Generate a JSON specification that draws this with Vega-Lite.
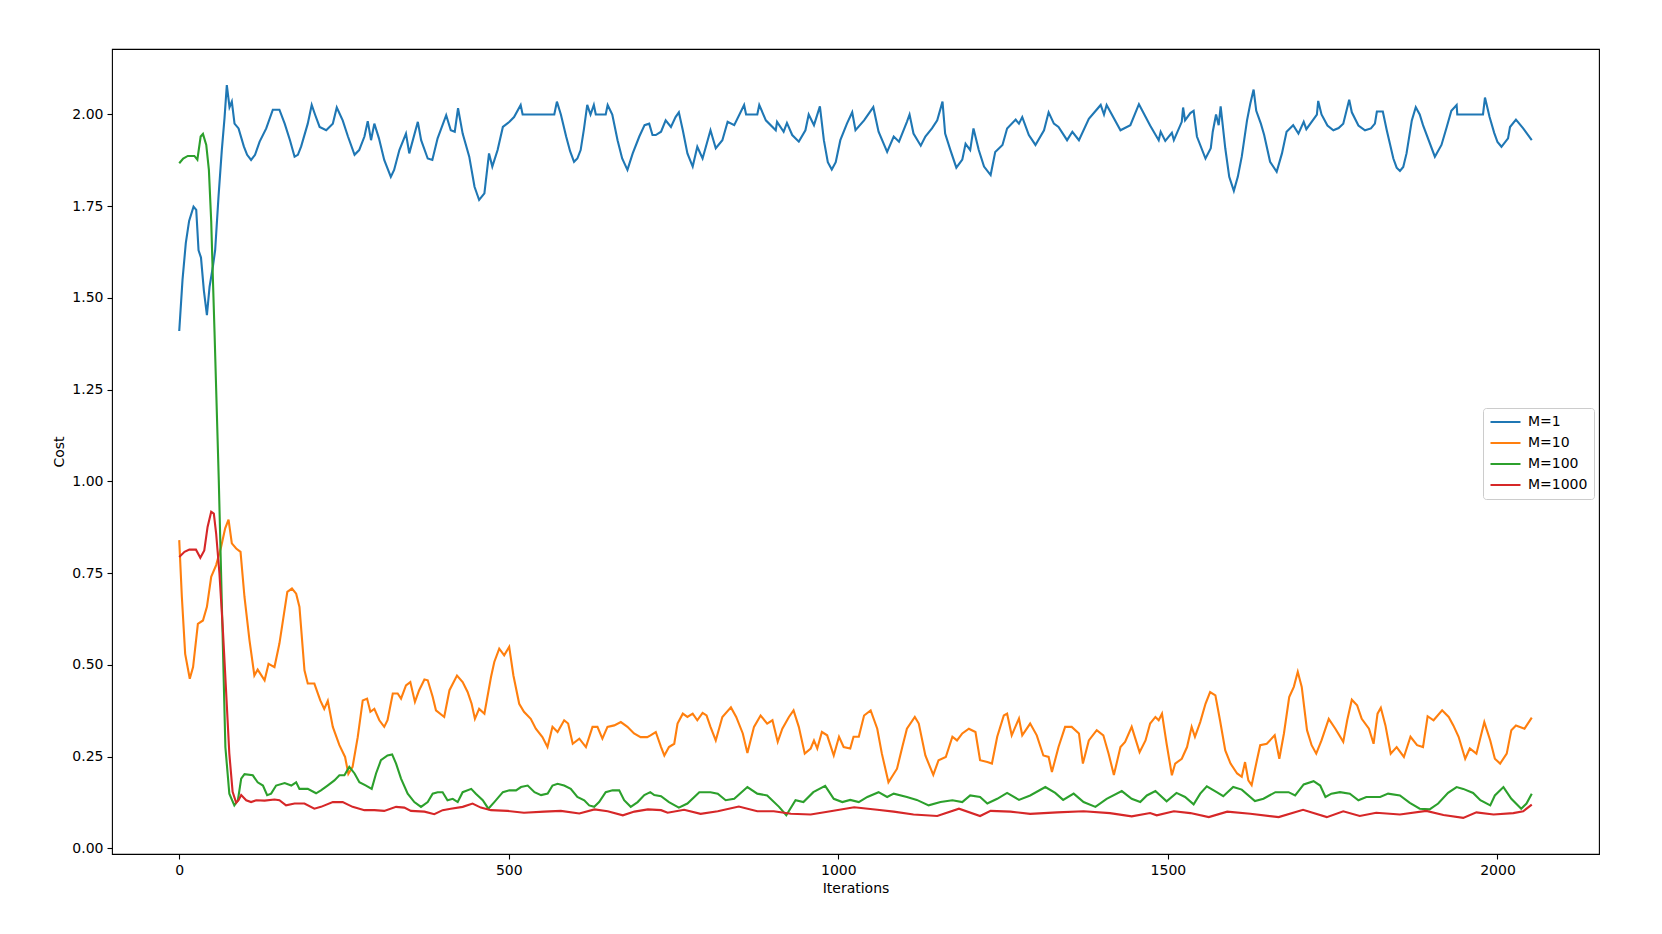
{
"$schema": "https://vega.github.io/schema/vega-lite/v6.json",
"width": 1487, "height": 805,
"autosize": {"type": "none"},
"padding": {"left": 112, "top": 49, "right": 63, "bottom": 80},
"background": "white",
"config": {
  "font": "DejaVu Sans",
  "view": {"stroke": "black", "strokeWidth": 1.1},
  "axis": {"grid": false, "domain": false, "tickColor": "black", "tickSize": 5, "tickWidth": 1.1, "labelPadding": 4, "labelFontSize": 14, "labelColor": "black", "labelFont": "DejaVu Sans", "titleFont": "DejaVu Sans", "titleFontSize": 14, "titleFontWeight": "normal", "titleColor": "black", "labelFlush": false}
},
"data": {"values": [
{"s":"M=1","x":0,"y":1.41},{"s":"M=1","x":5,"y":1.55},{"s":"M=1","x":10,"y":1.65},{"s":"M=1","x":15,"y":1.71},{"s":"M=1","x":21.7,"y":1.749},{"s":"M=1","x":25.8,"y":1.74},{"s":"M=1","x":29.3,"y":1.63},{"s":"M=1","x":33,"y":1.61},{"s":"M=1","x":37.4,"y":1.52},{"s":"M=1","x":42,"y":1.453},{"s":"M=1","x":46,"y":1.53},{"s":"M=1","x":51,"y":1.585},{"s":"M=1","x":54.5,"y":1.63},{"s":"M=1","x":59.6,"y":1.776},{"s":"M=1","x":64.6,"y":1.903},{"s":"M=1","x":68.7,"y":1.99},{"s":"M=1","x":72.2,"y":2.08},{"s":"M=1","x":76.3,"y":2.02},{"s":"M=1","x":79.8,"y":2.035},{"s":"M=1","x":83.9,"y":1.975},{"s":"M=1","x":90,"y":1.962},{"s":"M=1","x":98,"y":1.913},{"s":"M=1","x":103,"y":1.89},{"s":"M=1","x":109,"y":1.876},{"s":"M=1","x":115,"y":1.89},{"s":"M=1","x":122,"y":1.926},{"s":"M=1","x":132,"y":1.962},{"s":"M=1","x":142,"y":2.013},{"s":"M=1","x":152,"y":2.013},{"s":"M=1","x":160,"y":1.975},{"s":"M=1","x":168,"y":1.93},{"s":"M=1","x":175,"y":1.885},{"s":"M=1","x":180,"y":1.89},{"s":"M=1","x":185,"y":1.913},{"s":"M=1","x":195,"y":1.975},{"s":"M=1","x":201,"y":2.026},{"s":"M=1","x":206,"y":2.0},{"s":"M=1","x":213,"y":1.966},{"s":"M=1","x":223,"y":1.957},{"s":"M=1","x":233,"y":1.975},{"s":"M=1","x":239,"y":2.019},{"s":"M=1","x":248,"y":1.984},{"s":"M=1","x":256,"y":1.94},{"s":"M=1","x":266,"y":1.89},{"s":"M=1","x":273,"y":1.903},{"s":"M=1","x":281,"y":1.94},{"s":"M=1","x":286,"y":1.982},{"s":"M=1","x":291,"y":1.93},{"s":"M=1","x":296,"y":1.975},{"s":"M=1","x":303,"y":1.935},{"s":"M=1","x":311,"y":1.876},{"s":"M=1","x":321,"y":1.83},{"s":"M=1","x":326,"y":1.849},{"s":"M=1","x":334,"y":1.903},{"s":"M=1","x":344,"y":1.948},{"s":"M=1","x":349,"y":1.894},{"s":"M=1","x":362,"y":1.98},{"s":"M=1","x":367,"y":1.93},{"s":"M=1","x":377,"y":1.88},{"s":"M=1","x":384,"y":1.876},{"s":"M=1","x":392,"y":1.935},{"s":"M=1","x":405,"y":1.998},{"s":"M=1","x":412,"y":1.957},{"s":"M=1","x":418,"y":1.953},{"s":"M=1","x":423,"y":2.017},{"s":"M=1","x":430,"y":1.948},{"s":"M=1","x":440,"y":1.885},{"s":"M=1","x":448,"y":1.803},{"s":"M=1","x":455,"y":1.767},{"s":"M=1","x":463,"y":1.785},{"s":"M=1","x":470,"y":1.894},{"s":"M=1","x":475,"y":1.858},{"s":"M=1","x":483,"y":1.903},{"s":"M=1","x":491,"y":1.966},{"s":"M=1","x":501,"y":1.98},{"s":"M=1","x":508,"y":1.993},{"s":"M=1","x":518,"y":2.026},{"s":"M=1","x":521,"y":2.0},{"s":"M=1","x":569,"y":2.0},{"s":"M=1","x":573,"y":2.035},{"s":"M=1","x":579,"y":2.0},{"s":"M=1","x":587,"y":1.94},{"s":"M=1","x":593,"y":1.9},{"s":"M=1","x":599,"y":1.871},{"s":"M=1","x":604,"y":1.88},{"s":"M=1","x":609,"y":1.903},{"s":"M=1","x":614,"y":1.96},{"s":"M=1","x":619,"y":2.026},{"s":"M=1","x":624,"y":2.0},{"s":"M=1","x":629,"y":2.026},{"s":"M=1","x":632,"y":2.0},{"s":"M=1","x":647,"y":2.0},{"s":"M=1","x":650,"y":2.026},{"s":"M=1","x":657,"y":2.0},{"s":"M=1","x":665,"y":1.93},{"s":"M=1","x":672,"y":1.88},{"s":"M=1","x":680,"y":1.849},{"s":"M=1","x":688,"y":1.894},{"s":"M=1","x":698,"y":1.94},{"s":"M=1","x":706,"y":1.971},{"s":"M=1","x":713,"y":1.975},{"s":"M=1","x":718,"y":1.944},{"s":"M=1","x":723,"y":1.944},{"s":"M=1","x":731,"y":1.953},{"s":"M=1","x":738,"y":1.984},{"s":"M=1","x":746,"y":1.966},{"s":"M=1","x":753,"y":1.993},{"s":"M=1","x":758,"y":2.006},{"s":"M=1","x":764,"y":1.957},{"s":"M=1","x":771,"y":1.894},{"s":"M=1","x":779,"y":1.858},{"s":"M=1","x":786,"y":1.912},{"s":"M=1","x":794,"y":1.88},{"s":"M=1","x":806,"y":1.957},{"s":"M=1","x":814,"y":1.908},{"s":"M=1","x":824,"y":1.93},{"s":"M=1","x":832,"y":1.98},{"s":"M=1","x":842,"y":1.971},{"s":"M=1","x":857,"y":2.026},{"s":"M=1","x":860,"y":2.0},{"s":"M=1","x":877,"y":2.0},{"s":"M=1","x":880,"y":2.026},{"s":"M=1","x":890,"y":1.984},{"s":"M=1","x":905,"y":1.957},{"s":"M=1","x":907,"y":1.98},{"s":"M=1","x":917,"y":1.953},{"s":"M=1","x":922,"y":1.977},{"s":"M=1","x":930,"y":1.944},{"s":"M=1","x":940,"y":1.926},{"s":"M=1","x":950,"y":1.957},{"s":"M=1","x":955,"y":2.0},{"s":"M=1","x":963,"y":1.971},{"s":"M=1","x":972,"y":2.022},{"s":"M=1","x":978,"y":1.93},{"s":"M=1","x":984,"y":1.87},{"s":"M=1","x":990,"y":1.85},{"s":"M=1","x":996,"y":1.87},{"s":"M=1","x":1003,"y":1.93},{"s":"M=1","x":1013,"y":1.975},{"s":"M=1","x":1021,"y":2.006},{"s":"M=1","x":1026,"y":1.957},{"s":"M=1","x":1039,"y":1.984},{"s":"M=1","x":1053,"y":2.02},{"s":"M=1","x":1061,"y":1.953},{"s":"M=1","x":1074,"y":1.898},{"s":"M=1","x":1084,"y":1.94},{"s":"M=1","x":1092,"y":1.926},{"s":"M=1","x":1104,"y":1.98},{"s":"M=1","x":1108,"y":2.0},{"s":"M=1","x":1114,"y":1.948},{"s":"M=1","x":1125,"y":1.915},{"s":"M=1","x":1132,"y":1.94},{"s":"M=1","x":1142,"y":1.962},{"s":"M=1","x":1150,"y":1.984},{"s":"M=1","x":1158,"y":2.035},{"s":"M=1","x":1162,"y":1.948},{"s":"M=1","x":1170,"y":1.903},{"s":"M=1","x":1179,"y":1.855},{"s":"M=1","x":1188,"y":1.877},{"s":"M=1","x":1193,"y":1.92},{"s":"M=1","x":1200,"y":1.903},{"s":"M=1","x":1205,"y":1.962},{"s":"M=1","x":1213,"y":1.903},{"s":"M=1","x":1221,"y":1.858},{"s":"M=1","x":1231,"y":1.835},{"s":"M=1","x":1238,"y":1.898},{"s":"M=1","x":1249,"y":1.917},{"s":"M=1","x":1256,"y":1.962},{"s":"M=1","x":1269,"y":1.986},{"s":"M=1","x":1274,"y":1.975},{"s":"M=1","x":1279,"y":1.993},{"s":"M=1","x":1289,"y":1.944},{"s":"M=1","x":1299,"y":1.917},{"s":"M=1","x":1312,"y":1.957},{"s":"M=1","x":1319,"y":2.006},{"s":"M=1","x":1327,"y":1.975},{"s":"M=1","x":1334,"y":1.966},{"s":"M=1","x":1347,"y":1.93},{"s":"M=1","x":1355,"y":1.953},{"s":"M=1","x":1365,"y":1.93},{"s":"M=1","x":1380,"y":1.988},{"s":"M=1","x":1398,"y":2.026},{"s":"M=1","x":1403,"y":2.0},{"s":"M=1","x":1407,"y":2.026},{"s":"M=1","x":1428,"y":1.957},{"s":"M=1","x":1443,"y":1.971},{"s":"M=1","x":1456,"y":2.028},{"s":"M=1","x":1473,"y":1.97},{"s":"M=1","x":1486,"y":1.93},{"s":"M=1","x":1489,"y":1.953},{"s":"M=1","x":1496,"y":1.928},{"s":"M=1","x":1506,"y":1.95},{"s":"M=1","x":1509,"y":1.93},{"s":"M=1","x":1521,"y":1.98},{"s":"M=1","x":1523,"y":2.019},{"s":"M=1","x":1526,"y":1.984},{"s":"M=1","x":1534,"y":2.004},{"s":"M=1","x":1539,"y":2.01},{"s":"M=1","x":1544,"y":1.94},{"s":"M=1","x":1557,"y":1.88},{"s":"M=1","x":1565,"y":1.908},{"s":"M=1","x":1568,"y":1.953},{"s":"M=1","x":1573,"y":2.0},{"s":"M=1","x":1577,"y":1.971},{"s":"M=1","x":1580,"y":2.022},{"s":"M=1","x":1587,"y":1.908},{"s":"M=1","x":1593,"y":1.83},{"s":"M=1","x":1600,"y":1.792},{"s":"M=1","x":1606,"y":1.83},{"s":"M=1","x":1612,"y":1.885},{"s":"M=1","x":1620,"y":1.984},{"s":"M=1","x":1625,"y":2.03},{"s":"M=1","x":1630,"y":2.068},{"s":"M=1","x":1634,"y":2.01},{"s":"M=1","x":1641,"y":1.975},{"s":"M=1","x":1646,"y":1.944},{"s":"M=1","x":1655,"y":1.871},{"s":"M=1","x":1665,"y":1.844},{"s":"M=1","x":1673,"y":1.894},{"s":"M=1","x":1680,"y":1.953},{"s":"M=1","x":1690,"y":1.971},{"s":"M=1","x":1698,"y":1.948},{"s":"M=1","x":1706,"y":1.98},{"s":"M=1","x":1710,"y":1.96},{"s":"M=1","x":1726,"y":2.0},{"s":"M=1","x":1728,"y":2.037},{"s":"M=1","x":1733,"y":2.0},{"s":"M=1","x":1742,"y":1.97},{"s":"M=1","x":1751,"y":1.957},{"s":"M=1","x":1759,"y":1.963},{"s":"M=1","x":1766,"y":1.975},{"s":"M=1","x":1775,"y":2.04},{"s":"M=1","x":1779,"y":2.006},{"s":"M=1","x":1789,"y":1.97},{"s":"M=1","x":1799,"y":1.957},{"s":"M=1","x":1808,"y":1.962},{"s":"M=1","x":1814,"y":1.975},{"s":"M=1","x":1817,"y":2.008},{"s":"M=1","x":1826,"y":2.008},{"s":"M=1","x":1832,"y":1.957},{"s":"M=1","x":1842,"y":1.88},{"s":"M=1","x":1847,"y":1.855},{"s":"M=1","x":1852,"y":1.846},{"s":"M=1","x":1857,"y":1.857},{"s":"M=1","x":1862,"y":1.894},{"s":"M=1","x":1870,"y":1.984},{"s":"M=1","x":1876,"y":2.02},{"s":"M=1","x":1882,"y":2.0},{"s":"M=1","x":1887,"y":1.971},{"s":"M=1","x":1905,"y":1.885},{"s":"M=1","x":1915,"y":1.917},{"s":"M=1","x":1923,"y":1.966},{"s":"M=1","x":1930,"y":2.01},{"s":"M=1","x":1938,"y":2.026},{"s":"M=1","x":1939,"y":2.0},{"s":"M=1","x":1978,"y":2.0},{"s":"M=1","x":1981,"y":2.046},{"s":"M=1","x":1988,"y":1.993},{"s":"M=1","x":1995,"y":1.95},{"s":"M=1","x":2000,"y":1.925},{"s":"M=1","x":2006,"y":1.912},{"s":"M=1","x":2016,"y":1.935},{"s":"M=1","x":2019,"y":1.966},{"s":"M=1","x":2028,"y":1.986},{"s":"M=1","x":2039,"y":1.962},{"s":"M=1","x":2052,"y":1.93},
{"s":"M=10","x":0,"y":0.84},{"s":"M=10","x":4,"y":0.685},{"s":"M=10","x":9,"y":0.53},{"s":"M=10","x":16,"y":0.462},{"s":"M=10","x":21,"y":0.494},{"s":"M=10","x":28.3,"y":0.612},{"s":"M=10","x":36,"y":0.621},{"s":"M=10","x":42,"y":0.658},{"s":"M=10","x":48.5,"y":0.74},{"s":"M=10","x":56,"y":0.772},{"s":"M=10","x":63.6,"y":0.822},{"s":"M=10","x":69.7,"y":0.872},{"s":"M=10","x":74.8,"y":0.896},{"s":"M=10","x":79.8,"y":0.831},{"s":"M=10","x":86.4,"y":0.817},{"s":"M=10","x":93,"y":0.808},{"s":"M=10","x":99,"y":0.685},{"s":"M=10","x":106.6,"y":0.567},{"s":"M=10","x":114,"y":0.471},{"s":"M=10","x":119,"y":0.487},{"s":"M=10","x":129.5,"y":0.458},{"s":"M=10","x":135.5,"y":0.503},{"s":"M=10","x":144.5,"y":0.494},{"s":"M=10","x":152,"y":0.558},{"s":"M=10","x":164,"y":0.699},{"s":"M=10","x":171,"y":0.708},{"s":"M=10","x":177.4,"y":0.694},{"s":"M=10","x":182.4,"y":0.658},{"s":"M=10","x":190,"y":0.485},{"s":"M=10","x":195,"y":0.449},{"s":"M=10","x":205,"y":0.449},{"s":"M=10","x":214,"y":0.403},{"s":"M=10","x":220,"y":0.38},{"s":"M=10","x":225.4,"y":0.402},{"s":"M=10","x":233,"y":0.331},{"s":"M=10","x":243,"y":0.281},{"s":"M=10","x":251.6,"y":0.249},{"s":"M=10","x":256.6,"y":0.203},{"s":"M=10","x":263,"y":0.222},{"s":"M=10","x":270.8,"y":0.303},{"s":"M=10","x":278.4,"y":0.403},{"s":"M=10","x":285,"y":0.408},{"s":"M=10","x":290,"y":0.372},{"s":"M=10","x":296,"y":0.38},{"s":"M=10","x":303.6,"y":0.349},{"s":"M=10","x":311,"y":0.331},{"s":"M=10","x":316,"y":0.349},{"s":"M=10","x":324,"y":0.422},{"s":"M=10","x":331.4,"y":0.422},{"s":"M=10","x":336.5,"y":0.408},{"s":"M=10","x":344,"y":0.444},{"s":"M=10","x":350.6,"y":0.453},{"s":"M=10","x":357.6,"y":0.399},{"s":"M=10","x":364,"y":0.431},{"s":"M=10","x":372,"y":0.46},{"s":"M=10","x":377,"y":0.458},{"s":"M=10","x":384.5,"y":0.413},{"s":"M=10","x":389.5,"y":0.376},{"s":"M=10","x":402,"y":0.358},{"s":"M=10","x":410,"y":0.431},{"s":"M=10","x":421.4,"y":0.471},{"s":"M=10","x":430,"y":0.453},{"s":"M=10","x":437.5,"y":0.426},{"s":"M=10","x":443.6,"y":0.394},{"s":"M=10","x":448.6,"y":0.353},{"s":"M=10","x":455,"y":0.38},{"s":"M=10","x":463,"y":0.367},{"s":"M=10","x":473,"y":0.467},{"s":"M=10","x":478,"y":0.508},{"s":"M=10","x":485.5,"y":0.544},{"s":"M=10","x":493,"y":0.526},{"s":"M=10","x":500.6,"y":0.549},{"s":"M=10","x":507,"y":0.471},{"s":"M=10","x":515.8,"y":0.394},{"s":"M=10","x":523,"y":0.372},{"s":"M=10","x":533.3,"y":0.353},{"s":"M=10","x":541,"y":0.326},{"s":"M=10","x":551,"y":0.303},{"s":"M=10","x":558.7,"y":0.276},{"s":"M=10","x":566.3,"y":0.331},{"s":"M=10","x":574,"y":0.317},{"s":"M=10","x":584,"y":0.349},{"s":"M=10","x":590,"y":0.34},{"s":"M=10","x":597,"y":0.285},{"s":"M=10","x":607,"y":0.299},{"s":"M=10","x":617,"y":0.276},{"s":"M=10","x":627,"y":0.331},{"s":"M=10","x":634.5,"y":0.331},{"s":"M=10","x":642,"y":0.299},{"s":"M=10","x":649.7,"y":0.331},{"s":"M=10","x":660,"y":0.335},{"s":"M=10","x":670,"y":0.344},{"s":"M=10","x":680,"y":0.331},{"s":"M=10","x":690,"y":0.313},{"s":"M=10","x":700,"y":0.303},{"s":"M=10","x":710,"y":0.303},{"s":"M=10","x":715,"y":0.308},{"s":"M=10","x":723,"y":0.317},{"s":"M=10","x":731,"y":0.276},{"s":"M=10","x":736,"y":0.253},{"s":"M=10","x":743,"y":0.276},{"s":"M=10","x":751,"y":0.285},{"s":"M=10","x":756,"y":0.34},{"s":"M=10","x":764,"y":0.367},{"s":"M=10","x":771,"y":0.358},{"s":"M=10","x":779,"y":0.367},{"s":"M=10","x":786,"y":0.349},{"s":"M=10","x":794,"y":0.369},{"s":"M=10","x":800,"y":0.362},{"s":"M=10","x":806,"y":0.331},{"s":"M=10","x":814,"y":0.294},{"s":"M=10","x":824,"y":0.358},{"s":"M=10","x":837,"y":0.384},{"s":"M=10","x":845,"y":0.358},{"s":"M=10","x":855,"y":0.313},{"s":"M=10","x":862,"y":0.26},{"s":"M=10","x":872,"y":0.331},{"s":"M=10","x":882,"y":0.362},{"s":"M=10","x":892,"y":0.34},{"s":"M=10","x":900,"y":0.349},{"s":"M=10","x":908,"y":0.29},{"s":"M=10","x":915,"y":0.326},{"s":"M=10","x":925,"y":0.358},{"s":"M=10","x":932,"y":0.376},{"s":"M=10","x":940,"y":0.331},{"s":"M=10","x":949,"y":0.258},{"s":"M=10","x":958,"y":0.272},{"s":"M=10","x":963,"y":0.294},{"s":"M=10","x":968,"y":0.272},{"s":"M=10","x":975,"y":0.317},{"s":"M=10","x":983,"y":0.308},{"s":"M=10","x":993,"y":0.253},{"s":"M=10","x":1001,"y":0.304},{"s":"M=10","x":1008,"y":0.276},{"s":"M=10","x":1018,"y":0.272},{"s":"M=10","x":1023,"y":0.304},{"s":"M=10","x":1031,"y":0.304},{"s":"M=10","x":1039,"y":0.362},{"s":"M=10","x":1049,"y":0.376},{"s":"M=10","x":1059,"y":0.326},{"s":"M=10","x":1066,"y":0.258},{"s":"M=10","x":1076,"y":0.18},{"s":"M=10","x":1089,"y":0.217},{"s":"M=10","x":1097,"y":0.276},{"s":"M=10","x":1104,"y":0.326},{"s":"M=10","x":1116,"y":0.358},{"s":"M=10","x":1122,"y":0.34},{"s":"M=10","x":1132,"y":0.253},{"s":"M=10","x":1144,"y":0.2},{"s":"M=10","x":1152,"y":0.24},{"s":"M=10","x":1163,"y":0.249},{"s":"M=10","x":1173,"y":0.304},{"s":"M=10","x":1180,"y":0.294},{"s":"M=10","x":1188,"y":0.313},{"s":"M=10","x":1198,"y":0.326},{"s":"M=10","x":1208,"y":0.317},{"s":"M=10","x":1215,"y":0.24},{"s":"M=10","x":1226,"y":0.235},{"s":"M=10","x":1233,"y":0.231},{"s":"M=10","x":1241,"y":0.304},{"s":"M=10","x":1251,"y":0.362},{"s":"M=10","x":1256,"y":0.367},{"s":"M=10","x":1263,"y":0.308},{"s":"M=10","x":1274,"y":0.354},{"s":"M=10","x":1279,"y":0.308},{"s":"M=10","x":1291,"y":0.34},{"s":"M=10","x":1301,"y":0.308},{"s":"M=10","x":1311,"y":0.253},{"s":"M=10","x":1319,"y":0.249},{"s":"M=10","x":1324,"y":0.208},{"s":"M=10","x":1334,"y":0.276},{"s":"M=10","x":1344,"y":0.331},{"s":"M=10","x":1354,"y":0.331},{"s":"M=10","x":1365,"y":0.313},{"s":"M=10","x":1371,"y":0.231},{"s":"M=10","x":1380,"y":0.294},{"s":"M=10","x":1392,"y":0.322},{"s":"M=10","x":1402,"y":0.308},{"s":"M=10","x":1410,"y":0.258},{"s":"M=10","x":1418,"y":0.2},{"s":"M=10","x":1428,"y":0.276},{"s":"M=10","x":1435,"y":0.29},{"s":"M=10","x":1445,"y":0.331},{"s":"M=10","x":1457,"y":0.262},{"s":"M=10","x":1466,"y":0.294},{"s":"M=10","x":1473,"y":0.34},{"s":"M=10","x":1481,"y":0.358},{"s":"M=10","x":1486,"y":0.349},{"s":"M=10","x":1491,"y":0.367},{"s":"M=10","x":1498,"y":0.285},{"s":"M=10","x":1506,"y":0.199},{"s":"M=10","x":1511,"y":0.231},{"s":"M=10","x":1521,"y":0.244},{"s":"M=10","x":1529,"y":0.276},{"s":"M=10","x":1536,"y":0.331},{"s":"M=10","x":1541,"y":0.304},{"s":"M=10","x":1549,"y":0.344},{"s":"M=10","x":1557,"y":0.394},{"s":"M=10","x":1564,"y":0.426},{"s":"M=10","x":1572,"y":0.417},{"s":"M=10","x":1579,"y":0.349},{"s":"M=10","x":1587,"y":0.267},{"s":"M=10","x":1595,"y":0.231},{"s":"M=10","x":1605,"y":0.204},{"s":"M=10","x":1612,"y":0.195},{"s":"M=10","x":1617,"y":0.235},{"s":"M=10","x":1622,"y":0.185},{"s":"M=10","x":1627,"y":0.172},{"s":"M=10","x":1635,"y":0.24},{"s":"M=10","x":1640,"y":0.281},{"s":"M=10","x":1650,"y":0.285},{"s":"M=10","x":1662,"y":0.308},{"s":"M=10","x":1669,"y":0.244},{"s":"M=10","x":1676,"y":0.313},{"s":"M=10","x":1684,"y":0.412},{"s":"M=10","x":1691,"y":0.44},{"s":"M=10","x":1697,"y":0.481},{"s":"M=10","x":1703,"y":0.44},{"s":"M=10","x":1711,"y":0.322},{"s":"M=10","x":1718,"y":0.281},{"s":"M=10","x":1725,"y":0.258},{"s":"M=10","x":1733,"y":0.294},{"s":"M=10","x":1744,"y":0.353},{"s":"M=10","x":1754,"y":0.326},{"s":"M=10","x":1766,"y":0.29},{"s":"M=10","x":1772,"y":0.349},{"s":"M=10","x":1779,"y":0.405},{"s":"M=10","x":1787,"y":0.39},{"s":"M=10","x":1794,"y":0.353},{"s":"M=10","x":1805,"y":0.326},{"s":"M=10","x":1812,"y":0.285},{"s":"M=10","x":1818,"y":0.367},{"s":"M=10","x":1823,"y":0.383},{"s":"M=10","x":1830,"y":0.335},{"s":"M=10","x":1838,"y":0.258},{"s":"M=10","x":1847,"y":0.276},{"s":"M=10","x":1858,"y":0.249},{"s":"M=10","x":1868,"y":0.304},{"s":"M=10","x":1878,"y":0.281},{"s":"M=10","x":1887,"y":0.276},{"s":"M=10","x":1894,"y":0.36},{"s":"M=10","x":1903,"y":0.349},{"s":"M=10","x":1916,"y":0.376},{"s":"M=10","x":1926,"y":0.358},{"s":"M=10","x":1933,"y":0.335},{"s":"M=10","x":1941,"y":0.304},{"s":"M=10","x":1951,"y":0.244},{"s":"M=10","x":1958,"y":0.272},{"s":"M=10","x":1968,"y":0.258},{"s":"M=10","x":1980,"y":0.344},{"s":"M=10","x":1989,"y":0.294},{"s":"M=10","x":1996,"y":0.244},{"s":"M=10","x":2004,"y":0.231},{"s":"M=10","x":2014,"y":0.258},{"s":"M=10","x":2021,"y":0.322},{"s":"M=10","x":2028,"y":0.335},{"s":"M=10","x":2041,"y":0.326},{"s":"M=10","x":2052,"y":0.356},
{"s":"M=100","x":0,"y":1.867},{"s":"M=100","x":6,"y":1.88},{"s":"M=100","x":13,"y":1.887},{"s":"M=100","x":23,"y":1.887},{"s":"M=100","x":27.5,"y":1.877},{"s":"M=100","x":32.5,"y":1.94},{"s":"M=100","x":36,"y":1.947},{"s":"M=100","x":41,"y":1.917},{"s":"M=100","x":45,"y":1.849},{"s":"M=100","x":48.5,"y":1.71},{"s":"M=100","x":51,"y":1.557},{"s":"M=100","x":53.5,"y":1.41},{"s":"M=100","x":60,"y":1.003},{"s":"M=100","x":65,"y":0.64},{"s":"M=100","x":70,"y":0.276},{"s":"M=100","x":76,"y":0.149},{"s":"M=100","x":83.6,"y":0.117},{"s":"M=100","x":89,"y":0.131},{"s":"M=100","x":94,"y":0.19},{"s":"M=100","x":99,"y":0.202},{"s":"M=100","x":111.6,"y":0.199},{"s":"M=100","x":119,"y":0.18},{"s":"M=100","x":127,"y":0.171},{"s":"M=100","x":133.4,"y":0.145},{"s":"M=100","x":139.4,"y":0.149},{"s":"M=100","x":147,"y":0.171},{"s":"M=100","x":160,"y":0.178},{"s":"M=100","x":170,"y":0.171},{"s":"M=100","x":177.4,"y":0.18},{"s":"M=100","x":182.4,"y":0.162},{"s":"M=100","x":195,"y":0.162},{"s":"M=100","x":207.6,"y":0.15},{"s":"M=100","x":215,"y":0.158},{"s":"M=100","x":225,"y":0.171},{"s":"M=100","x":235.4,"y":0.185},{"s":"M=100","x":243,"y":0.199},{"s":"M=100","x":250.6,"y":0.199},{"s":"M=100","x":258,"y":0.222},{"s":"M=100","x":266,"y":0.204},{"s":"M=100","x":273.3,"y":0.18},{"s":"M=100","x":283.4,"y":0.171},{"s":"M=100","x":292,"y":0.162},{"s":"M=100","x":298.6,"y":0.204},{"s":"M=100","x":306,"y":0.24},{"s":"M=100","x":316,"y":0.253},{"s":"M=100","x":323,"y":0.256},{"s":"M=100","x":329,"y":0.231},{"s":"M=100","x":336.5,"y":0.19},{"s":"M=100","x":346.6,"y":0.149},{"s":"M=100","x":356.7,"y":0.126},{"s":"M=100","x":366.8,"y":0.113},{"s":"M=100","x":377,"y":0.126},{"s":"M=100","x":384.5,"y":0.149},{"s":"M=100","x":392,"y":0.153},{"s":"M=100","x":399.6,"y":0.153},{"s":"M=100","x":407,"y":0.131},{"s":"M=100","x":415,"y":0.135},{"s":"M=100","x":422.5,"y":0.126},{"s":"M=100","x":430,"y":0.153},{"s":"M=100","x":443,"y":0.162},{"s":"M=100","x":450,"y":0.149},{"s":"M=100","x":460.5,"y":0.131},{"s":"M=100","x":469,"y":0.108},{"s":"M=100","x":478,"y":0.126},{"s":"M=100","x":491,"y":0.153},{"s":"M=100","x":501,"y":0.158},{"s":"M=100","x":511,"y":0.158},{"s":"M=100","x":518.5,"y":0.167},{"s":"M=100","x":528.7,"y":0.171},{"s":"M=100","x":539,"y":0.153},{"s":"M=100","x":549,"y":0.145},{"s":"M=100","x":559,"y":0.149},{"s":"M=100","x":566.3,"y":0.171},{"s":"M=100","x":574,"y":0.176},{"s":"M=100","x":584,"y":0.171},{"s":"M=100","x":594,"y":0.162},{"s":"M=100","x":604,"y":0.14},{"s":"M=100","x":614.5,"y":0.131},{"s":"M=100","x":622,"y":0.117},{"s":"M=100","x":629.6,"y":0.113},{"s":"M=100","x":637,"y":0.126},{"s":"M=100","x":647,"y":0.153},{"s":"M=100","x":657.4,"y":0.158},{"s":"M=100","x":667.5,"y":0.158},{"s":"M=100","x":675,"y":0.131},{"s":"M=100","x":685,"y":0.113},{"s":"M=100","x":695.5,"y":0.126},{"s":"M=100","x":705.6,"y":0.145},{"s":"M=100","x":714.6,"y":0.153},{"s":"M=100","x":720.7,"y":0.145},{"s":"M=100","x":731,"y":0.142},{"s":"M=100","x":743,"y":0.126},{"s":"M=100","x":758,"y":0.111},{"s":"M=100","x":771,"y":0.122},{"s":"M=100","x":789,"y":0.153},{"s":"M=100","x":806,"y":0.153},{"s":"M=100","x":817,"y":0.149},{"s":"M=100","x":829,"y":0.131},{"s":"M=100","x":842,"y":0.135},{"s":"M=100","x":862,"y":0.167},{"s":"M=100","x":877,"y":0.149},{"s":"M=100","x":892,"y":0.144},{"s":"M=100","x":910,"y":0.113},{"s":"M=100","x":921,"y":0.09},{"s":"M=100","x":935,"y":0.131},{"s":"M=100","x":947,"y":0.126},{"s":"M=100","x":962,"y":0.153},{"s":"M=100","x":980,"y":0.17},{"s":"M=100","x":993,"y":0.135},{"s":"M=100","x":1006,"y":0.126},{"s":"M=100","x":1018,"y":0.132},{"s":"M=100","x":1031,"y":0.126},{"s":"M=100","x":1044,"y":0.14},{"s":"M=100","x":1061,"y":0.153},{"s":"M=100","x":1074,"y":0.14},{"s":"M=100","x":1084,"y":0.149},{"s":"M=100","x":1104,"y":0.14},{"s":"M=100","x":1119,"y":0.132},{"s":"M=100","x":1137,"y":0.117},{"s":"M=100","x":1155,"y":0.126},{"s":"M=100","x":1173,"y":0.131},{"s":"M=100","x":1188,"y":0.126},{"s":"M=100","x":1200,"y":0.144},{"s":"M=100","x":1215,"y":0.14},{"s":"M=100","x":1226,"y":0.122},{"s":"M=100","x":1241,"y":0.135},{"s":"M=100","x":1256,"y":0.151},{"s":"M=100","x":1274,"y":0.132},{"s":"M=100","x":1291,"y":0.144},{"s":"M=100","x":1314,"y":0.167},{"s":"M=100","x":1329,"y":0.151},{"s":"M=100","x":1341,"y":0.132},{"s":"M=100","x":1357,"y":0.149},{"s":"M=100","x":1372,"y":0.126},{"s":"M=100","x":1390,"y":0.113},{"s":"M=100","x":1407,"y":0.135},{"s":"M=100","x":1430,"y":0.156},{"s":"M=100","x":1445,"y":0.135},{"s":"M=100","x":1458,"y":0.126},{"s":"M=100","x":1468,"y":0.144},{"s":"M=100","x":1481,"y":0.156},{"s":"M=100","x":1498,"y":0.128},{"s":"M=100","x":1513,"y":0.151},{"s":"M=100","x":1526,"y":0.14},{"s":"M=100","x":1539,"y":0.12},{"s":"M=100","x":1549,"y":0.149},{"s":"M=100","x":1559,"y":0.169},{"s":"M=100","x":1574,"y":0.153},{"s":"M=100","x":1584,"y":0.142},{"s":"M=100","x":1599,"y":0.167},{"s":"M=100","x":1612,"y":0.16},{"s":"M=100","x":1632,"y":0.129},{"s":"M=100","x":1645,"y":0.135},{"s":"M=100","x":1663,"y":0.153},{"s":"M=100","x":1683,"y":0.153},{"s":"M=100","x":1693,"y":0.144},{"s":"M=100","x":1706,"y":0.174},{"s":"M=100","x":1721,"y":0.183},{"s":"M=100","x":1731,"y":0.171},{"s":"M=100","x":1739,"y":0.14},{"s":"M=100","x":1748,"y":0.149},{"s":"M=100","x":1761,"y":0.153},{"s":"M=100","x":1776,"y":0.149},{"s":"M=100","x":1789,"y":0.131},{"s":"M=100","x":1801,"y":0.14},{"s":"M=100","x":1822,"y":0.14},{"s":"M=100","x":1834,"y":0.149},{"s":"M=100","x":1852,"y":0.144},{"s":"M=100","x":1867,"y":0.124},{"s":"M=100","x":1882,"y":0.108},{"s":"M=100","x":1897,"y":0.106},{"s":"M=100","x":1910,"y":0.122},{"s":"M=100","x":1925,"y":0.151},{"s":"M=100","x":1938,"y":0.167},{"s":"M=100","x":1948,"y":0.162},{"s":"M=100","x":1963,"y":0.151},{"s":"M=100","x":1974,"y":0.131},{"s":"M=100","x":1989,"y":0.117},{"s":"M=100","x":1996,"y":0.144},{"s":"M=100","x":2009,"y":0.167},{"s":"M=100","x":2021,"y":0.135},{"s":"M=100","x":2036,"y":0.108},{"s":"M=100","x":2044,"y":0.122},{"s":"M=100","x":2052,"y":0.149},
{"s":"M=1000","x":0,"y":0.794},{"s":"M=1000","x":8,"y":0.808},{"s":"M=1000","x":15.3,"y":0.814},{"s":"M=1000","x":25.4,"y":0.814},{"s":"M=1000","x":32,"y":0.792},{"s":"M=1000","x":38,"y":0.812},{"s":"M=1000","x":43,"y":0.876},{"s":"M=1000","x":48.5,"y":0.917},{"s":"M=1000","x":52.5,"y":0.912},{"s":"M=1000","x":56,"y":0.858},{"s":"M=1000","x":61,"y":0.749},{"s":"M=1000","x":66,"y":0.603},{"s":"M=1000","x":71,"y":0.431},{"s":"M=1000","x":76,"y":0.258},{"s":"M=1000","x":81,"y":0.154},{"s":"M=1000","x":86.4,"y":0.124},{"s":"M=1000","x":90,"y":0.131},{"s":"M=1000","x":94,"y":0.145},{"s":"M=1000","x":101.6,"y":0.131},{"s":"M=1000","x":109,"y":0.126},{"s":"M=1000","x":116.6,"y":0.131},{"s":"M=1000","x":129.5,"y":0.13},{"s":"M=1000","x":144.5,"y":0.133},{"s":"M=1000","x":152,"y":0.131},{"s":"M=1000","x":162,"y":0.117},{"s":"M=1000","x":175,"y":0.122},{"s":"M=1000","x":190,"y":0.122},{"s":"M=1000","x":205,"y":0.108},{"s":"M=1000","x":215,"y":0.113},{"s":"M=1000","x":233,"y":0.126},{"s":"M=1000","x":248,"y":0.126},{"s":"M=1000","x":263,"y":0.113},{"s":"M=1000","x":281,"y":0.104},{"s":"M=1000","x":296,"y":0.104},{"s":"M=1000","x":311,"y":0.102},{"s":"M=1000","x":329,"y":0.113},{"s":"M=1000","x":341.5,"y":0.111},{"s":"M=1000","x":351.5,"y":0.102},{"s":"M=1000","x":372,"y":0.1},{"s":"M=1000","x":387,"y":0.093},{"s":"M=1000","x":399.6,"y":0.104},{"s":"M=1000","x":412,"y":0.108},{"s":"M=1000","x":430,"y":0.113},{"s":"M=1000","x":445,"y":0.122},{"s":"M=1000","x":457.6,"y":0.111},{"s":"M=1000","x":473,"y":0.104},{"s":"M=1000","x":498,"y":0.102},{"s":"M=1000","x":523,"y":0.097},{"s":"M=1000","x":553.6,"y":0.1},{"s":"M=1000","x":579,"y":0.102},{"s":"M=1000","x":607,"y":0.095},{"s":"M=1000","x":630,"y":0.106},{"s":"M=1000","x":650,"y":0.101},{"s":"M=1000","x":673,"y":0.09},{"s":"M=1000","x":690.6,"y":0.1},{"s":"M=1000","x":711,"y":0.106},{"s":"M=1000","x":731,"y":0.104},{"s":"M=1000","x":741,"y":0.097},{"s":"M=1000","x":766,"y":0.105},{"s":"M=1000","x":791,"y":0.094},{"s":"M=1000","x":817,"y":0.101},{"s":"M=1000","x":849,"y":0.114},{"s":"M=1000","x":877,"y":0.101},{"s":"M=1000","x":902,"y":0.101},{"s":"M=1000","x":928,"y":0.094},{"s":"M=1000","x":958,"y":0.092},{"s":"M=1000","x":988,"y":0.101},{"s":"M=1000","x":1024,"y":0.112},{"s":"M=1000","x":1059,"y":0.105},{"s":"M=1000","x":1084,"y":0.1},{"s":"M=1000","x":1114,"y":0.092},{"s":"M=1000","x":1150,"y":0.088},{"s":"M=1000","x":1183,"y":0.108},{"s":"M=1000","x":1215,"y":0.088},{"s":"M=1000","x":1231,"y":0.102},{"s":"M=1000","x":1261,"y":0.1},{"s":"M=1000","x":1291,"y":0.094},{"s":"M=1000","x":1332,"y":0.098},{"s":"M=1000","x":1372,"y":0.101},{"s":"M=1000","x":1412,"y":0.096},{"s":"M=1000","x":1445,"y":0.087},{"s":"M=1000","x":1473,"y":0.096},{"s":"M=1000","x":1483,"y":0.09},{"s":"M=1000","x":1509,"y":0.101},{"s":"M=1000","x":1534,"y":0.096},{"s":"M=1000","x":1562,"y":0.085},{"s":"M=1000","x":1590,"y":0.1},{"s":"M=1000","x":1625,"y":0.094},{"s":"M=1000","x":1668,"y":0.085},{"s":"M=1000","x":1705,"y":0.105},{"s":"M=1000","x":1741,"y":0.085},{"s":"M=1000","x":1766,"y":0.101},{"s":"M=1000","x":1791,"y":0.088},{"s":"M=1000","x":1816,"y":0.097},{"s":"M=1000","x":1852,"y":0.092},{"s":"M=1000","x":1892,"y":0.102},{"s":"M=1000","x":1918,"y":0.091},{"s":"M=1000","x":1948,"y":0.083},{"s":"M=1000","x":1968,"y":0.098},{"s":"M=1000","x":1994,"y":0.092},{"s":"M=1000","x":2024,"y":0.096},{"s":"M=1000","x":2039,"y":0.101},{"s":"M=1000","x":2052,"y":0.119}
]},
"mark": {"type": "line", "strokeWidth": 2.1},
"encoding": {
  "x": {"field": "x", "type": "quantitative", "scale": {"domain": [-102, 2154], "nice": false, "zero": false}, "axis": {"values": [0, 500, 1000, 1500, 2000], "format": "d", "title": "Iterations", "titlePadding": 4}},
  "y": {"field": "y", "type": "quantitative", "scale": {"domain": [-0.0155, 2.1785], "nice": false, "zero": false}, "axis": {"values": [0, 0.25, 0.5, 0.75, 1, 1.25, 1.5, 1.75, 2], "format": ".2f", "title": "Cost", "titlePadding": 5}},
  "color": {"field": "s", "type": "nominal", "scale": {"domain": ["M=1", "M=10", "M=100", "M=1000"], "range": ["#1f77b4", "#ff7f0e", "#2ca02c", "#d62728"]},
    "legend": {"title": null, "orient": "none", "legendX": 1371, "legendY": 359, "symbolType": "stroke", "symbolSize": 900, "symbolStrokeWidth": 2.1, "labelFontSize": 14, "labelFont": "DejaVu Sans", "labelColor": "black", "labelOffset": 6, "rowPadding": 5, "padding": 6, "strokeColor": "#cccccc", "fillColor": "white", "cornerRadius": 3, "clipHeight": 16}}
}
}
